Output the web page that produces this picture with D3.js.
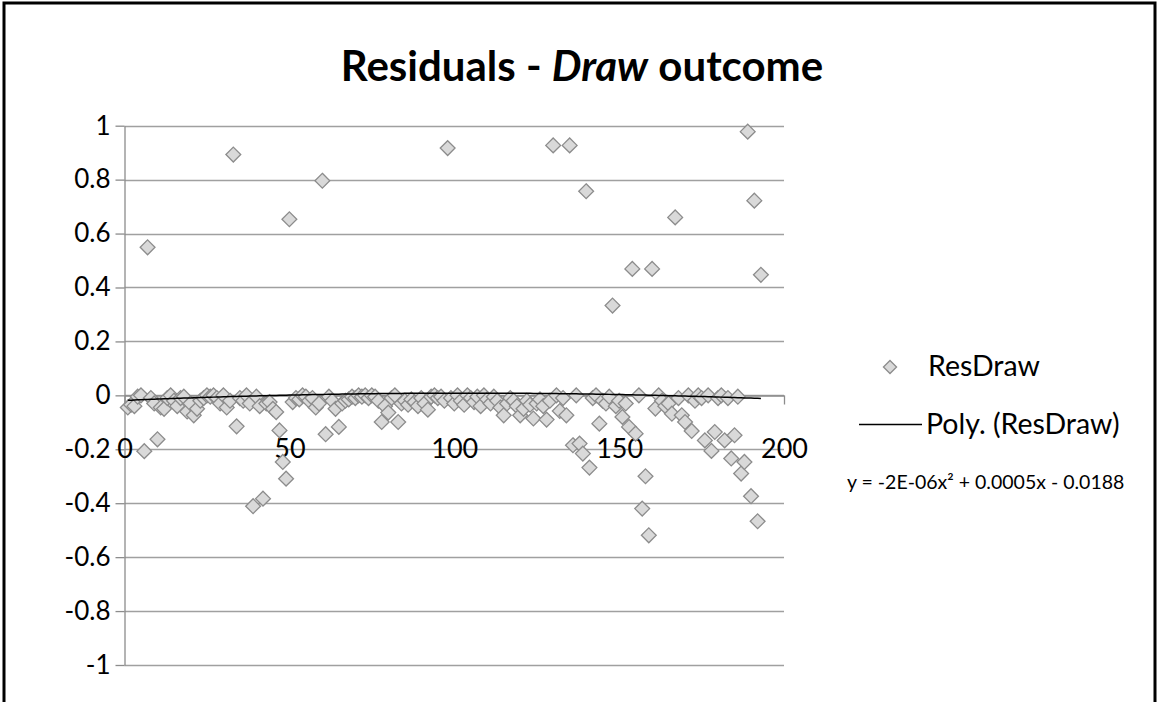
<!DOCTYPE html>
<html>
<head>
<meta charset="utf-8">
<script src="https://cdn.jsdelivr.net/npm/d3@7"></script>
<style>
  html, body { margin: 0; padding: 0; background: #fff; }
  svg { display: block; }
  text { font-family: Lato, "Noto Sans", sans-serif; fill: #000; }
</style>
</head>
<body>
<svg id="chart" width="1158" height="702"></svg>
<script>
// ---- data ----
const titleMain = "Residuals - ";
const titleItalic = "Draw";
const titleEnd = " outcome";
const seriesName = "ResDraw";
const trendName = "Poly. (ResDraw)";
const trendEquation = "y = -2E-06x\u00B2 + 0.0005x  - 0.0188";
// quadratic trend coefficients [a, b, c] as drawn
const trendCoef = [-2.5e-6, 0.00052, -0.0188];

const xTicks = [0, 50, 100, 150, 200];
const yTicks = [-1, -0.8, -0.6, -0.4, -0.2, 0, 0.2, 0.4, 0.6, 0.8, 1];
const yTickLabels = ["-1", "-0.8", "-0.6", "-0.4", "-0.2", "0", "0.2", "0.4", "0.6", "0.8", "1"];

const resDraw = [
  -0.045, -0.035, -0.04, -0.005, 0.0, -0.207, 0.549, -0.01, -0.03, -0.163,
  -0.045, -0.05, -0.01, 0.0, -0.02, -0.04, -0.01, -0.005, -0.06, -0.03,
  -0.074, -0.05, -0.02, -0.01, 0.0, -0.005, 0.0, -0.01, -0.03, 0.0,
  -0.045, -0.02, 0.893, -0.115, -0.01, -0.02, 0.0, -0.03, -0.411, -0.005,
  -0.04, -0.383, -0.03, -0.025, -0.05, -0.062, -0.13, -0.247, -0.309, 0.653,
  -0.025, -0.01, -0.015, 0.0, -0.005, -0.02, -0.01, -0.045, -0.03, 0.796,
  -0.144, -0.005, -0.02, -0.05, -0.117, -0.03, -0.02, -0.015, -0.005, -0.01,
  0.0, -0.005, 0.0, -0.01, 0.0, -0.005, -0.02, -0.099, -0.04, -0.064,
  -0.01, 0.0, -0.099, -0.03, -0.02, -0.035, -0.015, -0.025, -0.04, -0.01,
  -0.03, -0.053, -0.005, 0.0, -0.01, -0.005, -0.02, 0.917, -0.01, -0.03,
  0.0, -0.02, -0.035, 0.0, -0.01, -0.025, -0.005, -0.04, 0.0, -0.015,
  -0.03, -0.005, -0.02, -0.045, -0.074, -0.03, -0.01, -0.02, -0.04, -0.074,
  -0.05, -0.02, -0.035, -0.086, -0.03, -0.015, -0.04, -0.09, -0.02, 0.927,
  0.0, -0.058, -0.01, -0.074, 0.927, -0.185, 0.0, -0.179, -0.216, 0.757,
  -0.268, -0.01, 0.0, -0.105, -0.02, -0.03, -0.005, 0.333, -0.04, -0.02,
  -0.08, -0.03, -0.117, 0.469, -0.142, 0.0, -0.42, -0.3, -0.519, 0.469,
  -0.049, 0.0, -0.02, -0.04, -0.03, -0.068, 0.66, -0.01, -0.074, -0.099,
  0.0, -0.132, -0.02, 0.0, -0.01, -0.167, 0.0, -0.206, -0.136, -0.01,
  0.0, -0.167, -0.01, -0.234, -0.148, -0.005, -0.29, -0.247, 0.978, -0.374,
  0.722, -0.467, 0.447
];
const obsIndex = resDraw.map((_, i) => i + 1);

// ---- drawing ----
const svg = d3.select("#chart");
const W = 1158, H = 702;

// frame
svg.append("rect").attr("x", 0).attr("y", 0).attr("width", W).attr("height", H).attr("fill", "#fff");
svg.append("path")
  .attr("d", `M4,${H} L4,3 L${W - 3},3 L${W - 3},${H}`)
  .attr("fill", "none").attr("stroke", "#000").attr("stroke-width", 3);

const x = d3.scaleLinear().domain([0, 200]).range([124.5, 784]);
const y = d3.scaleLinear().domain([-1, 1]).range([665, 125.7]);

// title
const title = svg.append("text")
  .attr("x", 582).attr("y", 81)
  .attr("text-anchor", "middle")
  .style("font-size", "42px").style("font-weight", "bold");
title.append("tspan").text(titleMain);
title.append("tspan").style("font-style", "italic").text(titleItalic);
title.append("tspan").text(titleEnd);

// horizontal gridlines
svg.append("g").selectAll("line").data(yTicks).join("line")
  .attr("x1", x(0)).attr("x2", x(200))
  .attr("y1", d => Math.round(y(d)) + 0.5).attr("y2", d => Math.round(y(d)) + 0.5)
  .attr("stroke", "#a0a0a0").attr("stroke-width", 1.3);

// y axis
const yAxis = d3.axisLeft(y).tickValues(yTicks)
  .tickFormat((d, i) => yTickLabels[i]).tickSizeInner(9).tickSizeOuter(0).tickPadding(5);
const gy = svg.append("g").attr("transform", `translate(${x(0)},0)`).call(yAxis);
gy.select(".domain").attr("stroke", "#8c8c8c").attr("stroke-width", 1.3);
gy.selectAll(".tick line").attr("stroke", "#8c8c8c").attr("stroke-width", 1.3);
gy.selectAll(".tick text").style("font-size", "26px").style("font-family", "Lato, sans-serif").attr("fill", "#000");

// x axis at y = 0
const xAxis = d3.axisBottom(x).tickValues(xTicks).tickSizeInner(9).tickSizeOuter(0).tickPadding(34);
const gx = svg.append("g").attr("transform", `translate(0,${Math.round(y(0)) + 0.5})`).call(xAxis);
gx.select(".domain").attr("stroke", "#8c8c8c").attr("stroke-width", 1.3);
gx.selectAll(".tick line").attr("stroke", "#8c8c8c").attr("stroke-width", 1.3);
gx.selectAll(".tick text").style("font-size", "27px").style("font-family", "Lato, sans-serif").attr("fill", "#000");

// points (diamonds)
const diamond = d3.symbol().type(d3.symbolDiamond2).size(140);
svg.append("g").selectAll("path").data(resDraw).join("path")
  .attr("d", diamond)
  .attr("transform", (d, i) => `translate(${x(obsIndex[i])},${y(d)})`)
  .attr("fill", "#d9d9d9").attr("stroke", "#8c8c8c").attr("stroke-width", 1.3);

// trendline
const tr = d3.range(obsIndex[0], obsIndex[obsIndex.length - 1] + 0.001, 1)
  .map(v => [v, trendCoef[0] * v * v + trendCoef[1] * v + trendCoef[2]]);
svg.append("path").datum(tr)
  .attr("d", d3.line().x(d => x(d[0])).y(d => y(d[1])))
  .attr("fill", "none").attr("stroke", "#000").attr("stroke-width", 1.5);

// legend
const lg = svg.append("g");
lg.append("path").attr("d", d3.symbol().type(d3.symbolDiamond2).size(110))
  .attr("transform", "translate(890,367)")
  .attr("fill", "#d9d9d9").attr("stroke", "#8c8c8c").attr("stroke-width", 1.3);
lg.append("text").attr("x", 928).attr("y", 376).style("font-size", "28.5px").text(seriesName);
lg.append("line").attr("x1", 859).attr("x2", 922).attr("y1", 424.5).attr("y2", 424.5)
  .attr("stroke", "#000").attr("stroke-width", 1.5);
lg.append("text").attr("x", 926).attr("y", 434).style("font-size", "28.5px").text(trendName);
lg.append("text").attr("x", 847).attr("y", 489).style("font-size", "19.5px").text(trendEquation);
</script>
</body>
</html>
